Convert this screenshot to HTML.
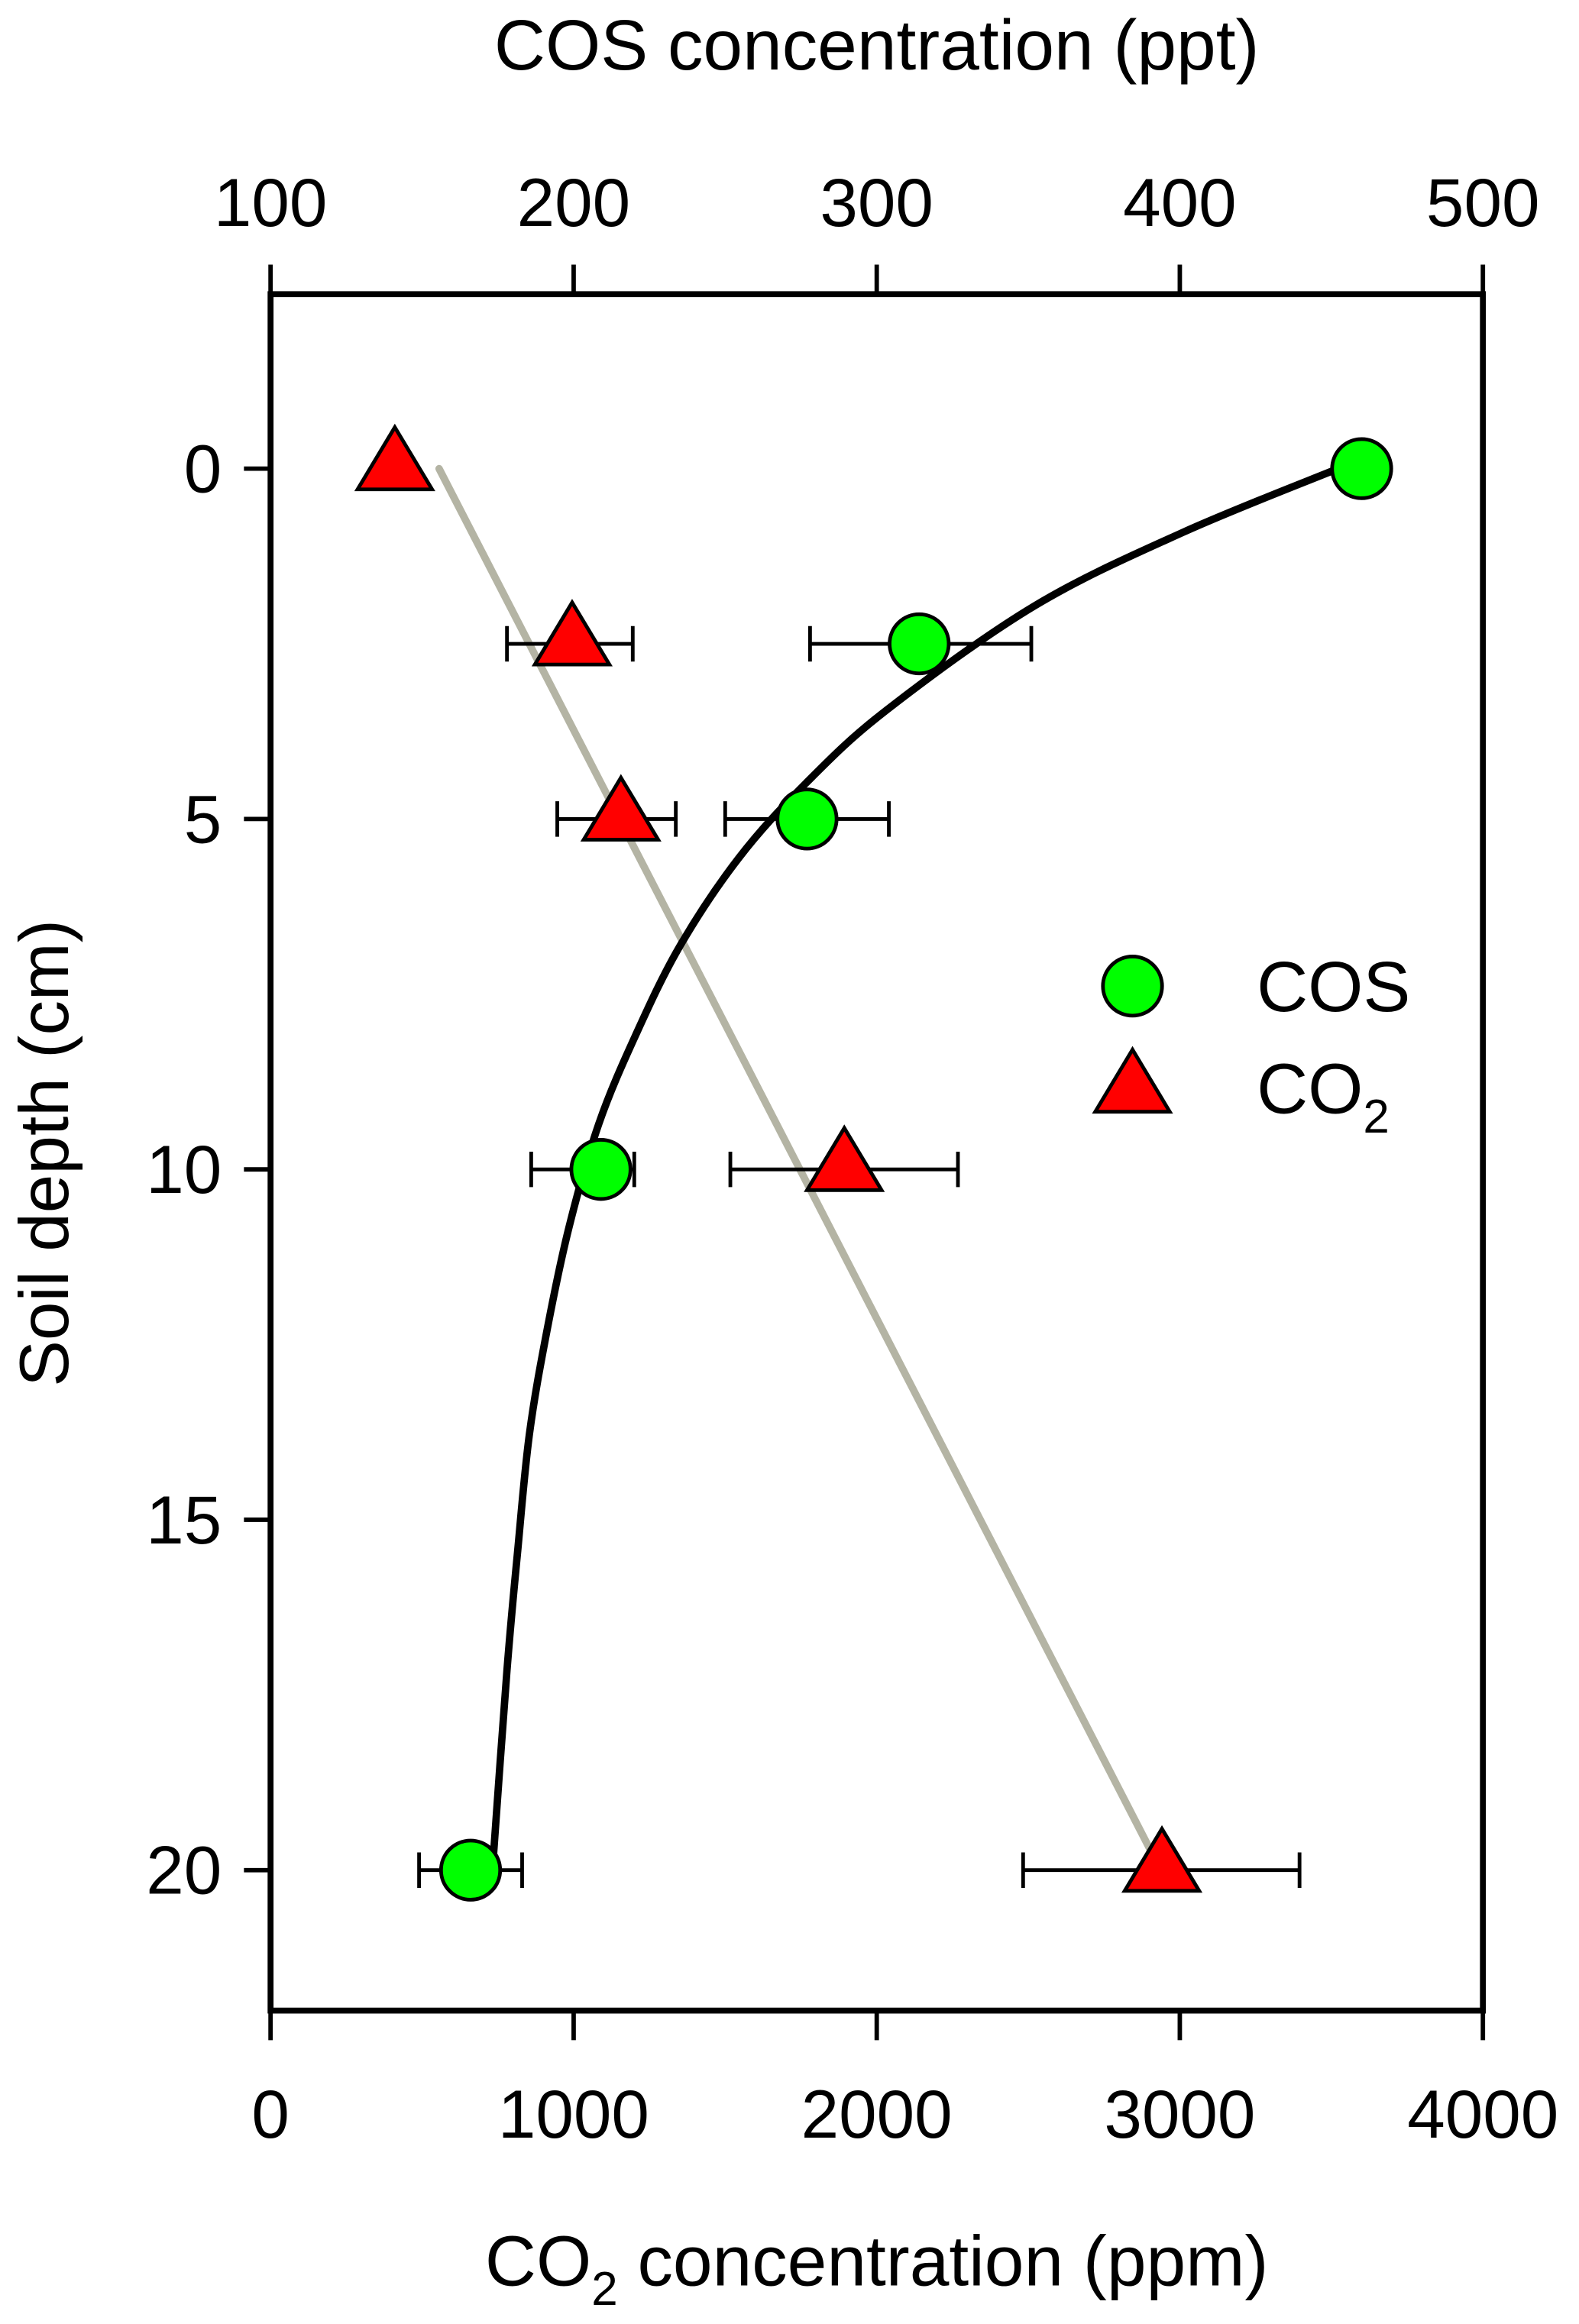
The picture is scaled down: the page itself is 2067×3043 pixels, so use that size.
<!DOCTYPE html>
<html><head><meta charset="utf-8"><style>
html,body{margin:0;padding:0;background:#fff;}
svg{display:block;font-family:"Liberation Sans",Arial,sans-serif;}
</style></head><body>
<svg id="chart" width="2067" height="3043" viewBox="0 0 1068 1572" preserveAspectRatio="none" xmlns="http://www.w3.org/2000/svg"></svg>
<script>
const depths = [0, 2.5, 5, 10, 20];
const cosValues = [460, 314, 277, 209, 166];
const cosErrLow = [460, 278, 250, 186, 149];
const cosErrHigh = [460, 351, 304, 220, 183];
const co2Values = [410, 995, 1156, 1893, 2941];
const co2ErrLow = [410, 780, 946, 1517, 2483];
const co2ErrHigh = [410, 1195, 1337, 2268, 3395];
const co2FitDepths = [0, 20];
const co2FitValues = [556, 2937];
const cosFitDepths = [0, 0.91, 1.96, 3.44, 4.49, 5.55, 6.81, 8.08, 9.35, 10.82, 12.3, 13.78, 15.46, 17.15, 20];
const cosFitValues = [452.2, 401, 352, 303.4, 276.6, 254.6, 235.1, 220.5, 208.3, 198.5, 191.2, 185.4, 181.5, 178, 173.2];
const bottomTicks = [0, 1000, 2000, 3000, 4000];
const topTicks = [100, 200, 300, 400, 500];
const leftTicks = [0, 5, 10, 15, 20];

const L=183,R=1003,T=199,B=1360;
const xCO2 = v => L + (v-0)/4000*(R-L);
const xCOS = v => L + (v-100)/400*(R-L);
const yD = d => 317 + d*(1265-317)/20;
const svg=document.getElementById('chart');
const NS='http://www.w3.org/2000/svg';
function mk(tag, attrs, parent){const e=document.createElementNS(NS,tag);for(const k in attrs)e.setAttribute(k,attrs[k]);(parent||svg).appendChild(e);return e;}

const gl=mk('polyline',{points:co2FitDepths.map((d,i)=>xCO2(co2FitValues[i])+','+yD(d)).join(' '),fill:'none',stroke:'#b4b4a4','stroke-width':5,'stroke-linecap':'round'});


const pts=cosFitDepths.map((d,i)=>[xCOS(cosFitValues[i]),yD(d)]);
let dstr='M'+pts[0][0]+','+pts[0][1];
for(let i=0;i<pts.length-1;i++){const p0=pts[Math.max(0,i-1)],p1=pts[i],p2=pts[i+1],p3=pts[Math.min(pts.length-1,i+2)];
dstr+=' C'+(p1[0]+(p2[0]-p0[0])/6)+','+(p1[1]+(p2[1]-p0[1])/6)+' '+(p2[0]-(p3[0]-p1[0])/6)+','+(p2[1]-(p3[1]-p1[1])/6)+' '+p2[0]+','+p2[1];}
const bl=mk('path',{d:dstr,fill:'none',stroke:'#000','stroke-width':5,'stroke-linecap':'round'});



function errbar(x1,x2,y,name){const g=mk('g',{stroke:'#000','stroke-width':2.5});


mk('line',{x1:x1,x2:x2,y1:y,y2:y},g);mk('line',{x1:x1,x2:x1,y1:y-12,y2:y+12},g);mk('line',{x1:x2,x2:x2,y1:y-12,y2:y+12},g);}
function tri(cx,cy,parent){const s=24;return mk('polygon',{points:`${cx},${cy-s} ${cx-s*1.05},${cy+s*0.75} ${cx+s*1.05},${cy+s*0.75}`,fill:'#f00',stroke:'#000','stroke-width':2.5},parent);}
depths.forEach((d,i)=>{
 if(co2ErrHigh[i]>co2ErrLow[i]) errbar(xCO2(co2ErrLow[i]),xCO2(co2ErrHigh[i]),yD(d),'co2-error-bar');
 if(cosErrHigh[i]>cosErrLow[i]) errbar(xCOS(cosErrLow[i]),xCOS(cosErrHigh[i]),yD(d),'cos-error-bar');
});
depths.forEach((d,i)=>{
 const c=mk('circle',{cx:xCOS(cosValues[i]),cy:yD(d),r:20,fill:'#0f0',stroke:'#000','stroke-width':2.5});
 
 
 const t=tri(xCO2(co2Values[i]),yD(d)-4);
 
 
});

const fr=mk('rect',{x:L,y:T,width:R-L,height:B-T,fill:'none',stroke:'#000','stroke-width':4});


function txt(x,y,s,anchor,size,name){const t=mk('text',{x:x,y:y,'text-anchor':anchor,'font-size':size,fill:'#000'});t.textContent=s;

return t;}
bottomTicks.forEach(v=>{mk('line',{x1:xCO2(v),x2:xCO2(v),y1:B,y2:B+20,stroke:'#000','stroke-width':3});txt(xCO2(v),1446,String(v),'middle',46,'bottom-tick-label');});
topTicks.forEach(v=>{mk('line',{x1:xCOS(v),x2:xCOS(v),y1:T,y2:T-20,stroke:'#000','stroke-width':3});txt(xCOS(v),153,String(v),'middle',46,'top-tick-label');});
leftTicks.forEach(v=>{mk('line',{x1:L,x2:L-18,y1:yD(v),y2:yD(v),stroke:'#000','stroke-width':3});txt(150,yD(v)+16,String(v),'end',46,'left-tick-label');});

txt(593,47,'COS concentration (ppt)','middle',48,'top-axis-title');
const bt=txt(593,1546,'','middle',48,'bottom-axis-title');
bt.innerHTML='CO<tspan font-size="32" dy="13">2</tspan><tspan dy="-13"> concentration (ppm)</tspan>';
const yt=mk('text',{x:0,y:0,'text-anchor':'middle','font-size':47,transform:'translate(46,780) rotate(-90)'});
yt.textContent='Soil depth (cm)';



const lg=mk('g',{});


mk('circle',{cx:766,cy:667,r:20,fill:'#0f0',stroke:'#000','stroke-width':2.5},lg);
const l1=mk('text',{x:850,y:684,'font-size':48},lg);l1.textContent='COS';
tri(766,734,lg);
const l2=mk('text',{x:850,y:753,'font-size':48},lg);l2.innerHTML='CO<tspan font-size="32" dy="13">2</tspan>';
</script>
</body></html>
